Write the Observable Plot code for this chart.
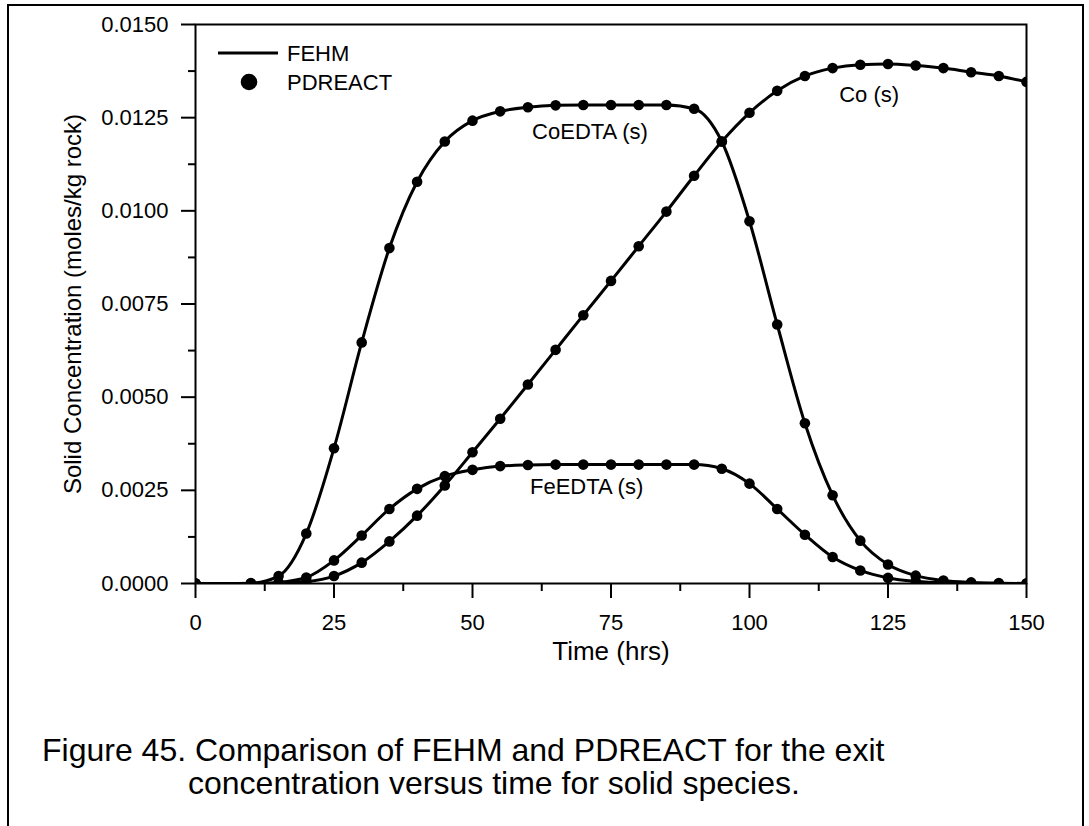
<!DOCTYPE html>
<html><head><meta charset="utf-8">
<script src="https://cdn.jsdelivr.net/npm/d3@7"></script>
<script src="https://cdn.jsdelivr.net/npm/@observablehq/plot@0.6"></script>
<style>
body{margin:0;background:#fff;font-family:"Liberation Sans",Arial,sans-serif;}
#wrap{position:relative;width:1089px;height:826px;overflow:hidden;background:#fff;}
#frame{position:absolute;left:7px;top:4px;width:1077px;height:900px;border:2px solid #000;box-sizing:border-box;}
#chart{position:absolute;left:0;top:0;}
#caption{position:absolute;left:42px;top:734px;font-size:32px;line-height:33px;color:#000;white-space:nowrap;}
</style></head><body>
<div id="wrap"><div id="frame"></div><div id="chart"></div>
<div id="caption"><div>Figure 45. Comparison of FEHM and PDREACT for the exit</div><div style="padding-left:146px">concentration versus time for solid species.</div></div></div>
<script>
// Time (hrs)
const time = [0,5,10,15,20,25,30,35,40,45,50,55,60,65,70,75,80,85,90,95,100,105,110,115,120,125,130,135,140,145,150];
// Solid concentration (moles/kg rock)
const coEDTA = [0,0,0.00001,0.0002,0.00134,0.00363,0.00647,0.009,0.01078,0.01186,0.01242,0.01267,0.01278,0.01283,0.01284,0.01284,0.01284,0.01284,0.01274,0.01186,0.00972,0.00695,0.0043,0.00237,0.00115,0.00051,0.00021,0.00008,0.00003,0.00001,0];
const feEDTA = [0,0,0,0.00003,0.00016,0.00062,0.00129,0.002,0.00254,0.00288,0.00305,0.00315,0.00318,0.00319,0.00319,0.00319,0.00319,0.00319,0.00319,0.00308,0.00268,0.002,0.00131,0.00071,0.00035,0.00015,0.00006,0.00002,0.00001,0,0];
const coS = [0,0,0,0.00001,0.00005,0.0002,0.00056,0.00113,0.00182,0.00263,0.00352,0.00442,0.00534,0.00627,0.0072,0.00812,0.00905,0.00998,0.01094,0.01186,0.01263,0.01322,0.01362,0.01383,0.01392,0.01394,0.0139,0.01383,0.01372,0.01362,0.01346];
// PDREACT output times (no point at 5 hrs)
const pdreactTimes = [0,10,15,20,25,30,35,40,45,50,55,60,65,70,75,80,85,90,95,100,105,110,115,120,125,130,135,140,145,150];
const seriesNames = ["CoEDTA (s)","FeEDTA (s)","Co (s)"];
const seriesValues = [coEDTA, feEDTA, coS];
// Curve labels (placed in data units)
const labelText = ["CoEDTA (s)","Co (s)","FeEDTA (s)"];
const labelTime = [71.2, 121.6, 70.6];
const labelConc = [0.01213, 0.01312, 0.00258];
// Axis ticks
const xMajor = [0,25,50,75,100,125,150];
const xMinor = [12.5,37.5,62.5,87.5,112.5,137.5];
const yMajor = [0,0.0025,0.005,0.0075,0.01,0.0125,0.015];
const yMinor = [0.00125,0.00375,0.00625,0.00875,0.01125,0.01375];
const legendNames = ["FEHM","PDREACT"];

const rows = [];
seriesNames.forEach((s, k) => time.forEach((t, i) => rows.push({series: s, t, v: seriesValues[k][i]})));
const pdRows = rows.filter(d => pdreactTimes.includes(d.t));
const labels = labelText.map((l, i) => ({label: l, t: labelTime[i], v: labelConc[i]}));

const FONT = '"Liberation Sans", Arial, sans-serif';

function legend(index, scales, values, dims) {
  const g = d3.create("svg:g").attr("font-family", FONT).attr("font-size", 22).attr("text-anchor", "start");
  const x0 = dims.marginLeft;
  const y0 = dims.marginTop;
  g.append("line").attr("x1", x0 + 23).attr("x2", x0 + 83).attr("y1", y0 + 29).attr("y2", y0 + 29)
    .attr("stroke", "#000").attr("stroke-width", 3);
  g.append("circle").attr("cx", x0 + 54).attr("cy", y0 + 58).attr("r", 8.3).attr("fill", "#000");
  g.append("text").attr("x", x0 + 92).attr("y", y0 + 29).attr("dy", "0.35em").attr("fill", "#000").text(legendNames[0]);
  g.append("text").attr("x", x0 + 92).attr("y", y0 + 58).attr("dy", "0.35em").attr("fill", "#000").text(legendNames[1]);
  return g.node();
}

const chart = Plot.plot({
  width: 1089, height: 700,
  marginLeft: 195, marginRight: 63, marginTop: 24, marginBottom: 117,
  style: {fontFamily: FONT, fontSize: "22px", background: "transparent", color: "#000"},
  x: {domain: [0, 150]},
  y: {domain: [0, 0.015]},
  marks: [
    Plot.line(rows, {x: "t", y: "v", z: "series", curve: "monotone-x", stroke: "#000", strokeWidth: 3, clip: true}),
    Plot.dot(pdRows, {x: "t", y: "v", r: 5.3, fill: "#000", stroke: null, clip: true}),
    Plot.frame({stroke: "#000", strokeWidth: 2}),
    Plot.axisX({ticks: xMajor, tickSize: 15, tickPadding: 16, tickFormat: d => String(d), label: null, strokeWidth: 2, fontSize: 22}),
    Plot.axisX({ticks: xMinor, tickSize: 8, text: null, label: null, strokeWidth: 2}),
    Plot.axisY({ticks: yMajor, tickSize: 14, tickPadding: 13, tickFormat: d3.format(".4f"), label: null, strokeWidth: 2, fontSize: 22}),
    Plot.axisY({ticks: yMinor, tickSize: 7, text: null, label: null, strokeWidth: 2}),
    Plot.text(["Time (hrs)"], {frameAnchor: "bottom", dy: 76, fontSize: 26, fill: "#000", textAnchor: "middle"}),
    Plot.text(["Solid Concentration (moles/kg rock)"], {frameAnchor: "left", dx: -122, rotate: -90, fontSize: 24, fill: "#000", textAnchor: "middle"}),
    Plot.text(labels, {x: "t", y: "v", text: "label", fontSize: 22, fill: "#000", textAnchor: "middle"}),
    legend
  ]
});
document.getElementById("chart").appendChild(chart);
</script>
</body></html>
